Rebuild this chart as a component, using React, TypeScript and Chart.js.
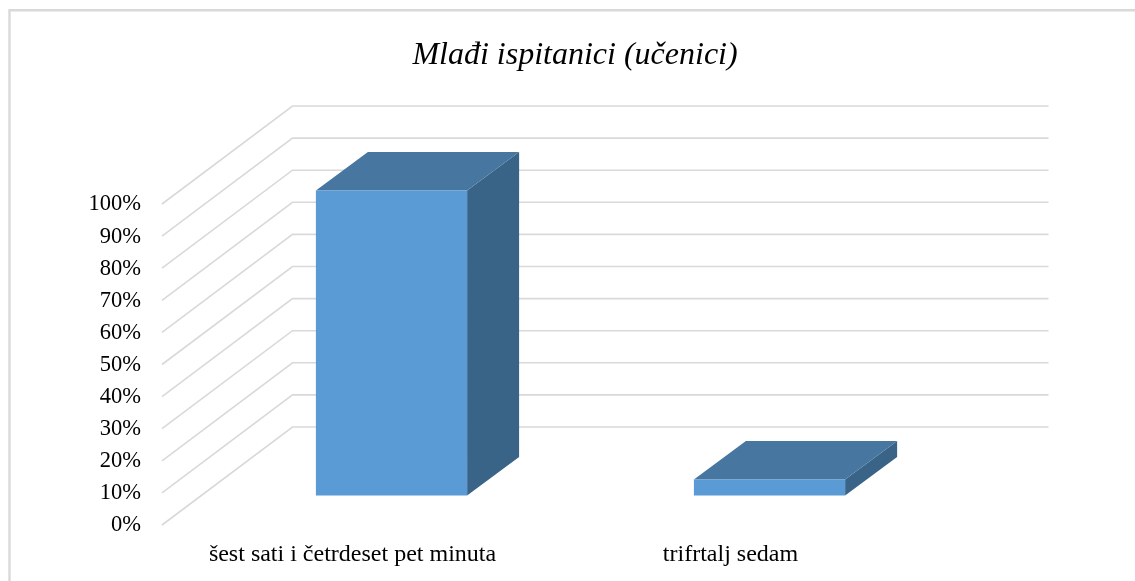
import React, { useEffect, useRef } from "react";
import { Chart, registerables } from "chart.js";

Chart.register(...registerables);

const categories = ["šest sati i četrdeset pet minuta", "trifrtalj sedam"];
const shares = [95, 5];
const axisMax = 100;
const axisStep = 10;
const chartTitle = "Mlađi ispitanici (učenici)";

const SERIF = '"Liberation Serif", "Times New Roman", serif';
const GRID = "#D9D9D9";
const FRONT = "#5B9BD5";
const TOP = "#4776A1";
const SIDE = "#3A6487";

const wallDx = 130.5;
const wallDy = -98;
const barDx = 40.5;
const barDy = -29.5;
const depthDx = 52;
const depthDy = -38.5;

const frame3d = {
  id: "frame3d",
  beforeDraw(chart: any) {
    const { ctx } = chart;
    ctx.save();
    ctx.strokeStyle = GRID;
    ctx.lineWidth = 2.4;
    ctx.beginPath();
    ctx.moveTo(9.5, chart.height);
    ctx.lineTo(9.5, 10.2);
    ctx.lineTo(chart.width, 10.2);
    ctx.stroke();
    ctx.restore();
  },
  beforeDatasetsDraw(chart: any) {
    const { ctx, chartArea, scales } = chart;
    ctx.save();
    ctx.strokeStyle = GRID;
    ctx.lineWidth = 1.6;
    for (const tick of scales.y.ticks) {
      const y = scales.y.getPixelForValue(tick.value);
      ctx.beginPath();
      ctx.moveTo(chartArea.left, y);
      ctx.lineTo(chartArea.left + wallDx, y + wallDy);
      ctx.lineTo(chartArea.right + wallDx, y + wallDy);
      ctx.stroke();
    }
    ctx.restore();

    ctx.save();
    ctx.translate(barDx, barDy);
    for (const bar of chart.getDatasetMeta(0).data) {
      const l = bar.x - bar.width / 2;
      const r = bar.x + bar.width / 2;
      ctx.fillStyle = SIDE;
      ctx.beginPath();
      ctx.moveTo(r, bar.y);
      ctx.lineTo(r + depthDx, bar.y + depthDy);
      ctx.lineTo(r + depthDx, bar.base + depthDy);
      ctx.lineTo(r, bar.base);
      ctx.closePath();
      ctx.fill();
      ctx.fillStyle = TOP;
      ctx.beginPath();
      ctx.moveTo(l, bar.y);
      ctx.lineTo(l + depthDx, bar.y + depthDy);
      ctx.lineTo(r + depthDx, bar.y + depthDy);
      ctx.lineTo(r, bar.y);
      ctx.closePath();
      ctx.fill();
    }
  },
  afterDatasetsDraw(chart: any) {
    chart.ctx.restore();
  },
};

export default function App() {
  const ref = useRef<HTMLCanvasElement>(null);
  useEffect(() => {
    const chart = new Chart(ref.current!, {
      type: "bar",
      data: {
        labels: categories,
        datasets: [
          {
            data: shares,
            backgroundColor: FRONT,
            borderWidth: 0,
            barPercentage: 0.4,
            categoryPercentage: 1,
            clip: false,
          } as any,
        ],
      },
      options: {
        animation: false,
        responsive: false,
        events: [],
        layout: { padding: { left: 15, right: 0, top: 0, bottom: 0 } },
        plugins: {
          legend: { display: false },
          tooltip: { enabled: false },
          title: {
            display: true,
            text: chartTitle,
            color: "#000000",
            font: { family: SERIF, size: 32, style: "italic", weight: "normal" },
            padding: { top: 36, bottom: 129.6 },
          },
        },
        scales: {
          x: {
            grid: { display: false },
            border: { display: false },
            ticks: {
              color: "#000000",
              font: { family: SERIF, size: 24 },
              padding: 7,
              labelOffset: 1.5,
              maxRotation: 0,
              autoSkip: false,
            },
            afterFit(s: any) {
              s.height = 56;
            },
          },
          y: {
            min: 0,
            max: axisMax,
            grid: { display: false },
            border: { display: false },
            ticks: {
              stepSize: axisStep,
              color: "#000000",
              font: { family: SERIF, size: 22.5 },
              padding: 13,
              labelOffset: 0.5,
              callback: (v: any) => `${v}%`,
            },
            afterFit(s: any) {
              s.width = 147;
            },
          },
          rightGap: {
            position: "right",
            display: true,
            grid: { display: false },
            border: { display: false },
            ticks: { display: false },
            afterFit(s: any) {
              s.width = 217;
            },
          },
        },
      } as any,
      plugins: [frame3d],
    });
    return () => chart.destroy();
  }, []);
  return (
    <div style={{ position: "absolute", left: 0, top: 0 }}>
      <canvas ref={ref} width={1135} height={581} style={{ display: "block" }} />
    </div>
  );
}
